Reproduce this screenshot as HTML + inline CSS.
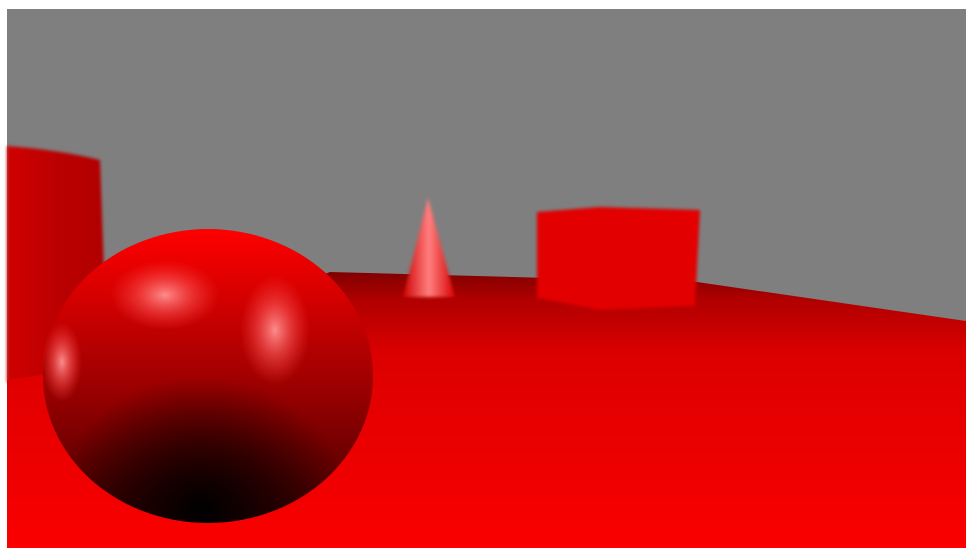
<!DOCTYPE html>
<html><head><meta charset="utf-8"><style>html,body{margin:0;padding:0;background:#fff}svg{display:block}</style></head>
<body>
<svg width="971" height="556" viewBox="0 0 971 556">
<defs>
<linearGradient id="floorG" x1="0" y1="0" x2="0" y2="1">
<stop offset="0" stop-color="#800000"/><stop offset="0.1" stop-color="#b00000"/><stop offset="0.3" stop-color="#dc0000"/><stop offset="1" stop-color="#fa0000"/></linearGradient>
<linearGradient id="cylG" x1="0" y1="0" x2="1" y2="0">
<stop offset="0" stop-color="#d00000"/><stop offset="0.5" stop-color="#bb0000"/><stop offset="1" stop-color="#b00000"/></linearGradient>
<linearGradient id="coneG" x1="0" y1="0" x2="1" y2="0">
<stop offset="0" stop-color="#d00000"/><stop offset="0.5" stop-color="#ff8080"/><stop offset="1" stop-color="#d80000"/></linearGradient>
<linearGradient id="sphBase" x1="0" y1="0" x2="0" y2="1">
<stop offset="0" stop-color="#ff0000"/><stop offset="0.3" stop-color="#c80000"/><stop offset="0.6" stop-color="#900000"/><stop offset="1" stop-color="#400000"/></linearGradient>
<radialGradient id="sphDark" cx="0.48" cy="0.95" r="0.45">
<stop offset="0" stop-color="#000" stop-opacity="1"/><stop offset="0.5" stop-color="#000" stop-opacity="0.55"/><stop offset="1" stop-color="#000" stop-opacity="0"/></radialGradient>
<radialGradient id="hl"><stop offset="0" stop-color="#ff9494" stop-opacity="0.95"/><stop offset="0.5" stop-color="#ff6060" stop-opacity="0.5"/><stop offset="1" stop-color="#ff4040" stop-opacity="0"/></radialGradient>
<filter id="bl"><feGaussianBlur stdDeviation="1.5"/></filter>
</defs>
<rect x="7" y="9" width="959" height="539" fill="#7f7f7f"/>
<path d="M7 146 Q60 150 100 160 L108 380 L7 382 Z" fill="url(#cylG)" filter="url(#bl)"/>
<polygon points="7,380 60,372 330,272 697,282 966,321 966,548 7,548" fill="url(#floorG)"/>
<polygon points="428,198 403,297 455,297" fill="url(#coneG)" filter="url(#bl)"/>
<polygon points="537,212 600,207 700,210 695,306 600,310 537,298" fill="#e20000" filter="url(#bl)"/>
<ellipse cx="208" cy="376" rx="165" ry="147" fill="url(#sphBase)"/>
<ellipse cx="208" cy="376" rx="165" ry="147" fill="url(#sphDark)"/>
<ellipse cx="165" cy="295" rx="55" ry="35" fill="url(#hl)"/>
<ellipse cx="275" cy="330" rx="35" ry="55" fill="url(#hl)"/>
<ellipse cx="62" cy="362" rx="20" ry="40" fill="url(#hl)"/>
</svg>
</body></html>
